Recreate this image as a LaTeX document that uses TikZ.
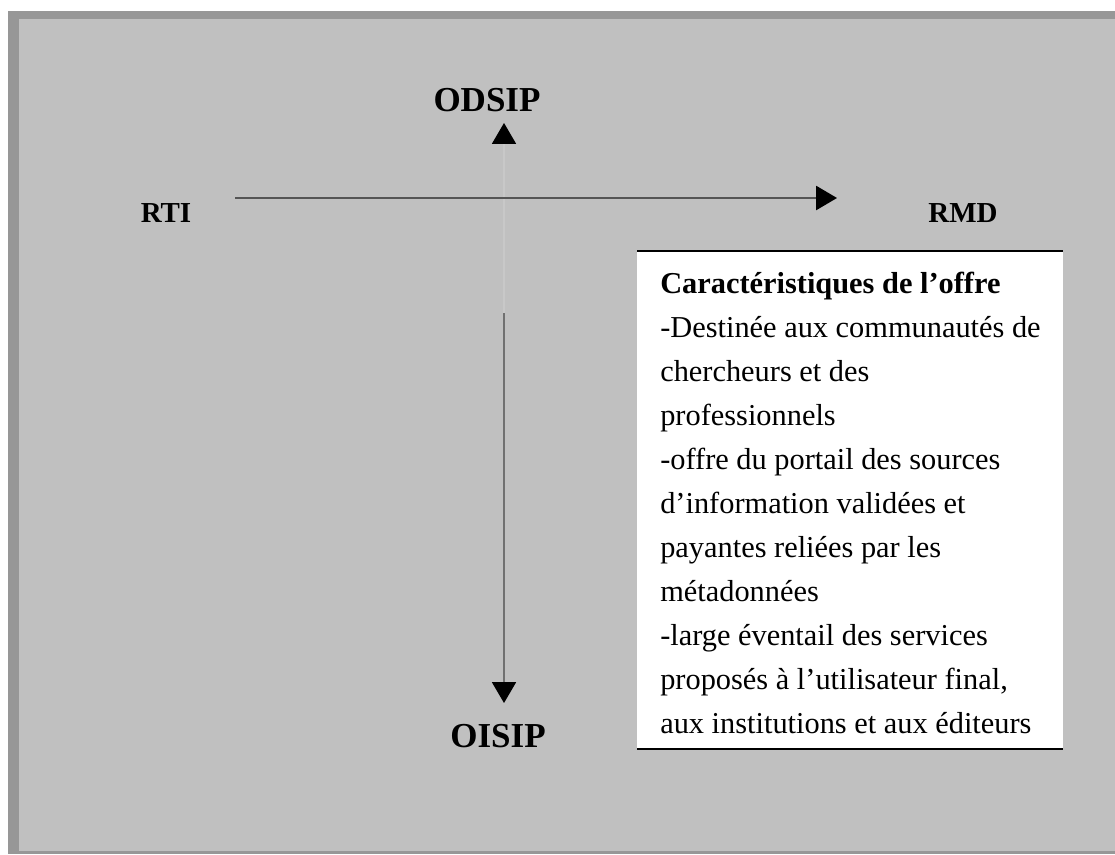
\documentclass[tikz,border=0pt]{standalone}
\usepackage{fontspec}
\setmainfont{Liberation Serif}
\usetikzlibrary{arrows.meta}
\definecolor{framegray}{HTML}{979797}
\definecolor{panelgray}{HTML}{C0C0C0}
\definecolor{linegray}{HTML}{555555}
\definecolor{stemgray}{HTML}{707070}
\definecolor{faintgray}{HTML}{C8C8C8}

\begin{document}
\begin{tikzpicture}[x=0.025cm,y=-0.025cm,
  axislabel/.style={font=\fontsize{20.6pt}{24pt}\selectfont\bfseries, inner sep=0pt},
  poslabel/.style={font=\fontsize{24.9pt}{29pt}\selectfont\bfseries, inner sep=0pt},
  tip/.style={-{Triangle[length=5.2mm,width=6mm,color=black]}}]
  \useasboundingbox (0,0) rectangle (1115,854);

  % Panel
  \fill[white] (0,0) rectangle (1115,854);
  \fill[framegray] (8,11) rectangle (1115,854);
  \fill[panelgray] (19,19) rectangle (1115,851);

  % Labels
  \node[axislabel] (rti) at (166,213) {RTI};
  \node[axislabel] (rmd) at (963,213) {RMD};
  \node[poslabel] (odsip) at (487,100) {ODSIP};
  \node[poslabel] (oisip) at (498,736) {OISIP};

  % Axes
  \coordinate (hstart) at (235,198);
  \coordinate (hend) at (837,198);
  \coordinate (vstart) at (504,313);
  \coordinate (vup) at (504,123);
  \coordinate (vdown) at (504,703);
  \draw[tip, faintgray, line width=0.8pt] (vstart) -- (vup);
  \draw[tip, stemgray, line width=0.9pt] (vstart) -- (vdown);
  \draw[tip, linegray, line width=1.4pt] (hstart) -- (hend);

  % Box
  \fill[white] (637,251) rectangle (1063,749);
  \draw[line width=1.4pt] (637,251) -- (1063,251);
  \draw[line width=1.4pt] (637,749) -- (1063,749);
  \node[anchor=north west, inner sep=0pt, align=left,
        font=\fontsize{21.6pt}{31.3pt}\selectfont] (offre) at (660,272)
    {\textbf{Caractéristiques de l'offre}\\
     -Destinée aux communautés de\\
     chercheurs et des\\
     professionnels\\
     -offre du portail des sources\\
     d'information validées et\\
     payantes reliées par les\\
     métadonnées\\
     -large éventail des services\\
     proposés à l'utilisateur final,\\
     aux institutions et aux éditeurs};
\end{tikzpicture}
\end{document}
